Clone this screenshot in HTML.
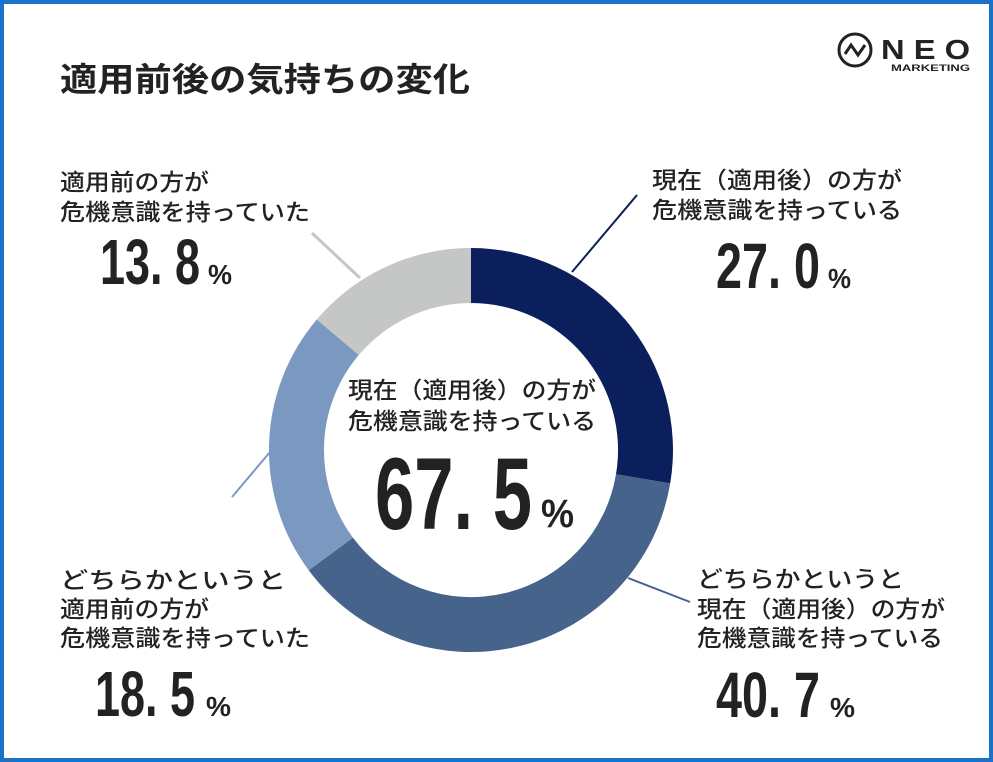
<!DOCTYPE html>
<html><head><meta charset="utf-8"><style>
html,body{margin:0;padding:0;background:#fff}
svg{display:block}
text{font-family:"Liberation Sans","Noto Sans CJK JP",sans-serif;fill:#222}
.l{font-size:23px;font-weight:500}
.n{font-weight:bold;fill:#222}
</style></head><body>
<svg width="993" height="762" viewBox="0 0 993 762" xmlns="http://www.w3.org/2000/svg">
<rect x="2" y="2" width="989" height="758" fill="#fff" stroke="#1a73c8" stroke-width="4"/>
<text x="60" y="91" font-size="33" font-weight="bold" textLength="410" lengthAdjust="spacingAndGlyphs">適用前後の気持ちの変化</text>
<!-- logo -->
<circle cx="855" cy="50" r="16" fill="none" stroke="#222" stroke-width="3"/>
<polyline points="845,54 851,45 858,55 865,45" fill="none" stroke="#222" stroke-width="3"/>
<text x="881" y="59" font-size="28" font-weight="bold" textLength="89" lengthAdjust="spacingAndGlyphs">N E O</text>
<text x="891" y="71" font-size="9" font-weight="bold" textLength="79" lengthAdjust="spacingAndGlyphs">MARKETING</text>
<!-- donut -->
<g transform="translate(471,450)">
<path d="M0,-202 A202,202 0 0 1 199.2,33.4 L145,24.3 A147,147 0 0 0 0,-147Z" fill="#0b1f5c"/>
<path d="M199.2,33.4 A202,202 0 0 1 -162.3,120.3 L-118.1,87.6 A147,147 0 0 0 145,24.3Z" fill="#46648b"/>
<path d="M-162.3,120.3 A202,202 0 0 1 -154.2,-130.5 L-112.2,-95 A147,147 0 0 0 -118.1,87.6Z" fill="#7b98c0"/>
<path d="M-154.2,-130.5 A202,202 0 0 1 0,-202 L0,-147 A147,147 0 0 0 -112.2,-95Z" fill="#c5c6c6"/>
</g>
<line x1="572" y1="272" x2="637" y2="195" stroke="#0b1f5c" stroke-width="2"/>
<line x1="360" y1="278" x2="312" y2="233" stroke="#c5c6c6" stroke-width="3"/>
<line x1="270" y1="452" x2="232" y2="497" stroke="#7b98c0" stroke-width="2"/>
<line x1="628" y1="578" x2="690" y2="602" stroke="#46648b" stroke-width="2"/>
<!-- labels -->
<text class="l" x="60" y="190" textLength="149" lengthAdjust="spacingAndGlyphs">適用前の方が</text>
<text class="l" x="60" y="220" textLength="250" lengthAdjust="spacingAndGlyphs">危機意識を持っていた</text>
<text class="n" x="100" y="284" font-size="64" textLength="100" lengthAdjust="spacingAndGlyphs">13. 8</text>
<text class="n" x="208" y="284" font-size="28" textLength="24" lengthAdjust="spacingAndGlyphs">%</text>

<text class="l" x="652" y="188" textLength="250" lengthAdjust="spacingAndGlyphs">現在（適用後）の方が</text>
<text class="l" x="652" y="218" textLength="250" lengthAdjust="spacingAndGlyphs">危機意識を持っている</text>
<text class="n" x="716" y="288" font-size="64" textLength="104" lengthAdjust="spacingAndGlyphs">27. 0</text>
<text class="n" x="828" y="288" font-size="28" textLength="23" lengthAdjust="spacingAndGlyphs">%</text>

<text class="l" x="348" y="398" textLength="248" lengthAdjust="spacingAndGlyphs">現在（適用後）の方が</text>
<text class="l" x="348" y="429" textLength="248" lengthAdjust="spacingAndGlyphs">危機意識を持っている</text>
<text class="n" x="375" y="529" font-size="102" textLength="157" lengthAdjust="spacingAndGlyphs">67. 5</text>
<text class="n" x="541" y="527" font-size="40" textLength="33" lengthAdjust="spacingAndGlyphs">%</text>

<text class="l" x="60" y="588" textLength="226" lengthAdjust="spacingAndGlyphs">どちらかというと</text>
<text class="l" x="60" y="617" textLength="149" lengthAdjust="spacingAndGlyphs">適用前の方が</text>
<text class="l" x="60" y="646" textLength="250" lengthAdjust="spacingAndGlyphs">危機意識を持っていた</text>
<text class="n" x="95" y="716" font-size="64" textLength="100" lengthAdjust="spacingAndGlyphs">18. 5</text>
<text class="n" x="206" y="716" font-size="28" textLength="25" lengthAdjust="spacingAndGlyphs">%</text>

<text class="l" x="697" y="587" textLength="207" lengthAdjust="spacingAndGlyphs">どちらかというと</text>
<text class="l" x="697" y="617" textLength="248" lengthAdjust="spacingAndGlyphs">現在（適用後）の方が</text>
<text class="l" x="697" y="646" textLength="246" lengthAdjust="spacingAndGlyphs">危機意識を持っている</text>
<text class="n" x="716" y="717" font-size="64" textLength="104" lengthAdjust="spacingAndGlyphs">40. 7</text>
<text class="n" x="830" y="717" font-size="28" textLength="25" lengthAdjust="spacingAndGlyphs">%</text>
</svg>
</body></html>
